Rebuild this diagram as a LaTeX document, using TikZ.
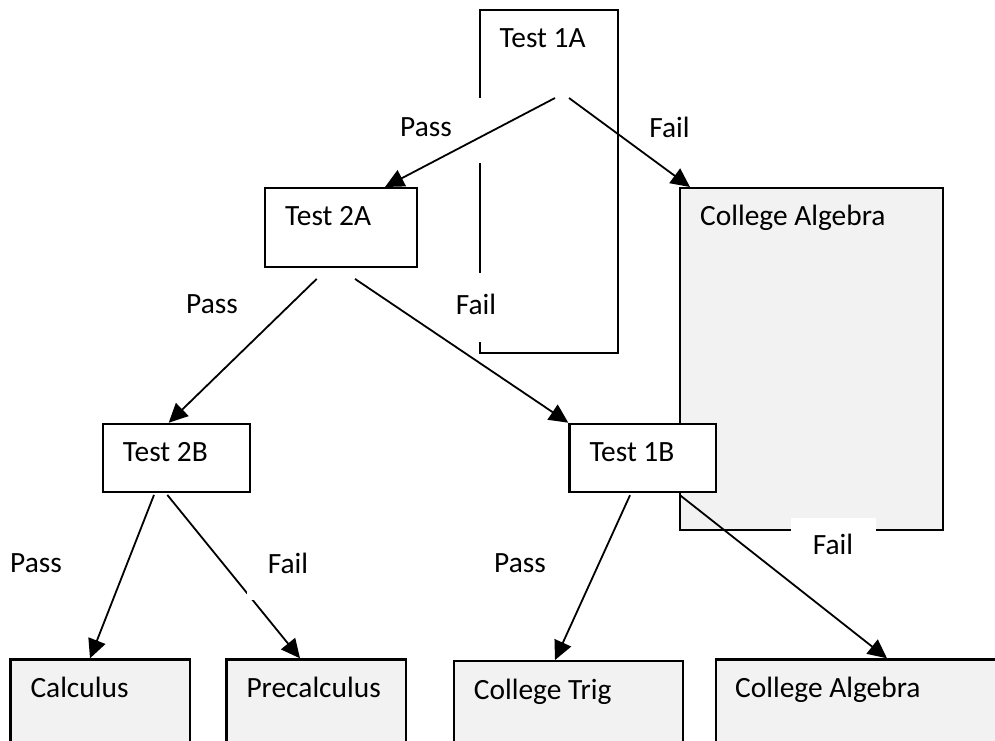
\documentclass[tikz,border=0pt]{standalone}
\usepackage{fontspec}
\setmainfont{Carlito}
\usetikzlibrary{arrows.meta}
\definecolor{boxgray}{RGB}{242,242,242}

\begin{document}
\begin{tikzpicture}[x=1pt, y=-1pt, font=\fontsize{29.4}{34}\selectfont]
    \tikzstyle{box}=[draw,line width=2.2pt,anchor=north west,inner sep=0pt,fill=white];
    \tikzstyle{course}=[box,fill=boxgray];
    \tikzstyle{txt}=[anchor=base west,inner sep=0pt];
    \tikzstyle{lbl}=[fill=white,inner sep=0pt,text depth=7pt,minimum width=80pt,minimum height=65pt];
    \tikzstyle{arr}=[line width=1.8pt,-{Triangle[length=19pt,width=18pt]}];
    \useasboundingbox (0,0) rectangle (995,740);
    \clip (0,0) rectangle (995,740);
    %big boxes
    \node[box,minimum width=138.5,minimum height=343.5] (t1a) at (478.5,8.5) {};
    \node[course,minimum width=263,minimum height=341.5] (ca1) at (679,187) {};
    %courses
    \node[course,minimum width=179.7,minimum height=120] (calc) at (9.3,658.3) {};
    \node[course,minimum width=179.7,minimum height=120] (pre) at (225.3,658.3) {};
    \node[course,minimum width=229,minimum height=120] (trig) at (452.7,660) {};
    \node[course,minimum width=300,minimum height=120] (ca2) at (715,658.3) {};
    %tests
    \node[box,minimum width=151.5,minimum height=78.5] (t2a) at (264,187) {};
    \node[box,minimum width=147,minimum height=68.3] (t2b) at (101.7,422.7) {};
    \node[box,minimum width=146.7,minimum height=68.3] (t1b) at (568.3,422.7) {};
    %texts
    \node[txt] (t1a-t) at ([shift={(21,38.5)}]t1a.north west) {Test 1A};
    \node[txt] (ca1-t) at ([shift={(21,38.5)}]ca1.north west) {College Algebra};
    \node[txt] (t2a-t) at ([shift={(21,38.5)}]t2a.north west) {Test 2A};
    \node[txt] (t2b-t) at ([shift={(21,38.5)}]t2b.north west) {Test 2B};
    \node[txt] (t1b-t) at ([shift={(21,38.5)}]t1b.north west) {Test 1B};
    \node[txt] (calc-t) at ([shift={(21,39)}]calc.north west) {Calculus};
    \node[txt] (pre-t) at ([shift={(21,39)}]pre.north west) {Precalculus};
    \node[txt] (trig-t) at ([shift={(21,39)}]trig.north west) {College Trig};
    \node[txt] (ca2-t) at ([shift={(20,39)}]ca2.north west) {College Algebra};
    %arrow under its label
    \draw[arr] ([shift={(65.6,1.7)}]t2b.south west) -- ([shift={(74.7,0)}]pre.north west);
    %labels
    \node[lbl,minimum width=112] (pass1) at (426,130.8) {Pass};
    \node[lbl] (fail1) at (669.5,130.8) {Fail};
    \node[lbl] (pass2) at (212,307.5) {Pass};
    \node[lbl,minimum height=69] (fail2) at (476,307.5) {Fail};
    \node[lbl] (pass3) at (36,567) {Pass};
    \node[lbl,minimum width=82,minimum height=66] (fail3) at (288,566.5) {Fail};
    \node[lbl] (pass4) at (520,567) {Pass};
    \node[lbl,minimum width=85,minimum height=60] (fail4) at (833,548) {Fail};
    %arrows
    \draw[arr] ([shift={(76.5,89.5)}]t1a.north west) -- ([shift={(121,0)}]t2a.north west);
    \draw[arr] ([shift={(90.5,89.5)}]t1a.north west) -- ([shift={(11,0)}]ca1.north west);
    \draw[arr] ([shift={(52.7,11.2)}]t2a.south west) -- ([shift={(67,0)}]t2b.north west);
    \draw[arr] ([shift={(91,11.2)}]t2a.south west) -- (t1b.north west);
    \draw[arr] ([shift={(52.3,1.7)}]t2b.south west) -- ([shift={(80.7,0)}]calc.north west);
    \draw[arr] ([shift={(61.7,2)}]t1b.south west) -- ([shift={(102.3,0)}]trig.north west);
    \draw[arr] ([shift={(111.7,2)}]t1b.south west) -- ([shift={(172,0)}]ca2.north west);
\end{tikzpicture}
\end{document}
